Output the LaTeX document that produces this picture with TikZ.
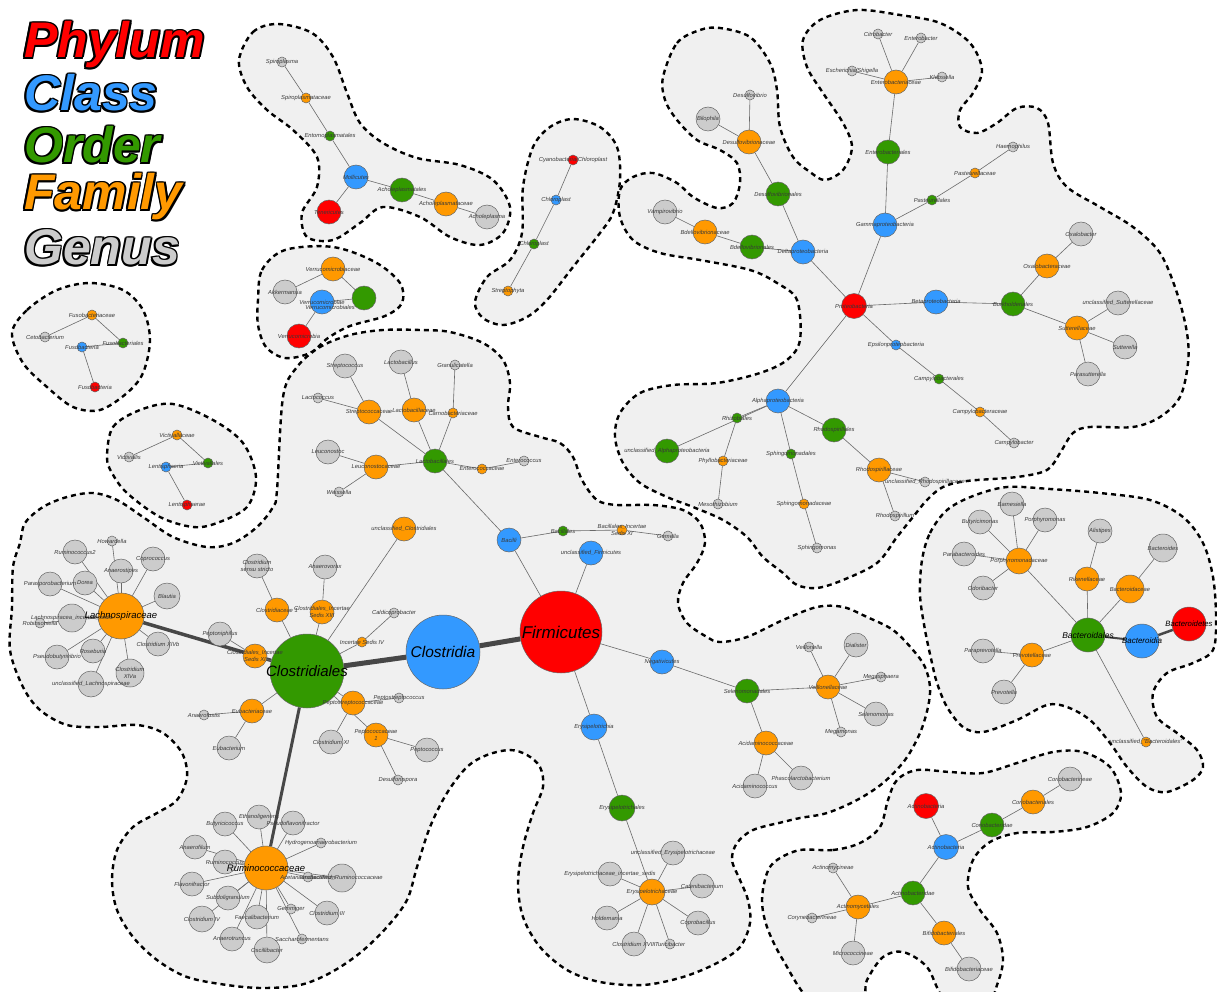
\documentclass[tikz,border=0pt]{standalone}
\usepackage{fontspec}
\setmainfont{Liberation Sans}
\usetikzlibrary{positioning}
\definecolor{cphylum}{HTML}{FF0000}
\definecolor{cclass}{HTML}{3399FF}
\definecolor{corder}{HTML}{339900}
\definecolor{cfamily}{HTML}{FF9900}
\definecolor{cgenus}{HTML}{CCCCCC}
\definecolor{hullfill}{HTML}{F0F0F0}
\definecolor{edgegray}{HTML}{6A6A6A}
\pgfdeclarelayer{hulls}
\pgfdeclarelayer{links}
\pgfsetlayers{hulls,links,main}
\tikzset{
  taxon/.style={circle, draw=black!60, line width=0.5pt, inner sep=0pt, minimum size=#1},
  taxon/.default=24pt,
  tphylum/.style={taxon=#1, fill=cphylum}, tphylum/.default=24pt,
  tclass/.style={taxon=#1, fill=cclass}, tclass/.default=24pt,
  torder/.style={taxon=#1, fill=corder}, torder/.default=24pt,
  tfamily/.style={taxon=#1, fill=cfamily}, tfamily/.default=24pt,
  tgenus/.style={taxon=#1, fill=cgenus}, tgenus/.default=24pt,
  lbl/.style={font=\fontsize{5.8}{6.6}\selectfont\itshape, text=black!78, inner sep=0pt, align=center},
  big/.style={font=\fontsize{#1}{#1}\selectfont\itshape, text=black},
  link/.style={draw=edgegray, line width=0.6pt},
  trunk/.style={draw=black!72, line width=#1},
  hull/.style={fill=hullfill, draw=black, line width=2.4pt, dash pattern=on 5pt off 4pt},
  legend/.style={anchor=base west, inner sep=0pt, font=\fontsize{50}{50}\selectfont\bfseries\itshape}
}
% label centred on its taxon
\newcommand\lab[3][]{\node[lbl,#1] (#2-l) at (#2) {#3};}
% outlined legend word
\newcommand\legendword[4]{%
  \foreach \dx/\dy [count=\k] in {1.7/0,-1.7/0,0/1.7,0/-1.7,1.2/1.2,1.2/-1.2,-1.2/1.2,-1.2/-1.2}
    \node[legend, text=black, xshift=\dx pt, yshift=\dy pt] (#1-\k) at (24,#3) {#4};
  \node[legend, text=#2] (#1) at (24,#3) {#4};
}

\begin{document}
\begin{tikzpicture}[x=1pt, y=-1pt]
\useasboundingbox (0,0) rectangle (1217,992);

% hulls
\begin{pgfonlayer}{hulls}
\fill[white] (0,0) rectangle (1217,992);
\draw[hull] plot[smooth cycle, tension=0.55] coordinates {(239,60) (253,32) (278,24) (312,33) (333,57) (347,93) (360,123) (383,143) (417,158) (460,165) (493,180) (510,207) (503,233) (480,245) (450,237) (420,217) (383,207) (360,223) (333,240) (307,237) (302,213) (317,187) (317,157) (293,130) (267,110) (247,87)};
\draw[hull] plot[smooth cycle, tension=0.55] coordinates {(258,300) (262,270) (285,250) (333,247) (375,262) (400,283) (402,303) (385,316) (350,326) (328,338) (310,353) (285,358) (266,347) (258,325)};
\draw[hull] plot[smooth cycle, tension=0.55] coordinates {(12,333) (27,310) (57,290) (90,283) (123,290) (143,310) (150,340) (143,373) (127,393) (100,410) (73,407) (47,387) (23,363)};
\draw[hull] plot[smooth cycle, tension=0.55] coordinates {(107,457) (113,427) (140,410) (173,404) (213,420) (243,443) (256,477) (247,507) (217,523) (193,527) (160,517) (127,493) (112,473)};
\draw[hull] plot[smooth cycle, tension=0.55] coordinates {(475,302) (487,277) (510,260) (522,233) (523,187) (533,147) (550,127) (573,119) (600,127) (617,147) (620,180) (613,213) (600,233) (573,267) (547,300) (527,317) (503,325) (483,318)};
\draw[hull] plot[smooth cycle, tension=0.55] coordinates {(663,77) (677,43) (700,30) (720,28) (750,37) (770,63) (777,90) (780,127) (793,157) (810,172) (825,180) (843,170) (852,147) (843,123) (823,93) (807,67) (803,40) (820,20) (857,10) (900,15) (940,23) (970,43) (982,70) (973,93) (960,110) (960,127) (977,133) (997,123) (1017,108) (1037,108) (1048,123) (1053,163) (1067,187) (1100,207) (1133,227) (1160,253) (1177,293) (1187,333) (1188,363) (1180,397) (1160,417) (1133,427) (1090,427) (1073,433) (1060,453) (1047,470) (1017,477) (967,481) (943,487) (927,500) (913,517) (897,537) (877,563) (843,580) (817,588) (797,585) (783,573) (763,557) (747,537) (723,520) (693,507) (667,497) (640,483) (623,463) (615,437) (620,413) (640,393) (673,385) (717,383) (760,373) (787,360) (800,340) (797,300) (777,283) (750,270) (700,260) (660,253) (633,240) (620,217) (620,190) (633,177) (653,173) (677,183) (693,197) (717,208) (733,203) (740,183) (737,163) (720,150) (697,140) (677,120) (665,100)};
\draw[hull] plot[smooth cycle, tension=0.55] coordinates {(277,490) (283,397) (297,367) (320,347) (350,335) (383,330) (420,330) (450,332) (483,343) (503,360) (510,383) (508,407) (513,427) (540,437) (560,443) (573,457) (582,480) (597,500) (617,505) (653,505) (683,510) (700,523) (705,543) (697,563) (683,583) (678,603) (687,623) (707,637) (720,642) (747,637) (783,620) (817,607) (843,607) (867,617) (893,630) (913,650) (925,667) (930,687) (928,707) (920,733) (905,760) (883,783) (857,800) (827,813) (800,818) (783,822) (753,830) (737,843) (732,860) (740,880) (748,900) (750,923) (740,947) (717,963) (683,977) (643,985) (600,982) (567,970) (540,947) (523,917) (518,883) (523,847) (533,813) (543,787) (540,767) (527,755) (510,750) (487,755) (467,767) (447,793) (430,827) (417,867) (407,900) (387,927) (360,953) (330,973) (300,985) (263,988) (227,985) (187,977) (157,960) (133,937) (117,910) (112,880) (117,850) (133,827) (157,813) (177,800) (187,777) (182,753) (163,733) (137,725) (100,727) (67,725) (40,710) (23,687) (10,650) (12,607) (13,567) (20,543) (25,523) (43,507) (67,497) (93,493) (117,500) (143,517) (173,537) (207,547) (233,543) (257,527) (273,507)};
\draw[hull] plot[smooth cycle, tension=0.55] coordinates {(922,560) (930,533) (947,510) (973,496) (1007,487) (1050,489) (1100,493) (1150,500) (1183,517) (1203,543) (1213,577) (1216,617) (1213,650) (1193,663) (1167,673) (1153,693) (1157,717) (1177,733) (1197,750) (1203,767) (1193,780) (1167,792) (1147,787) (1127,767) (1110,743) (1090,720) (1067,707) (1047,705) (1017,720) (983,732) (963,727) (947,707) (937,683) (932,663) (925,630) (920,595)};
\draw[hull] plot[smooth cycle, tension=0.55] coordinates {(800,850) (833,850) (860,843) (880,827) (888,800) (897,780) (917,770) (950,772) (983,773) (1017,763) (1053,752) (1083,752) (1110,767) (1121,793) (1113,813) (1087,827) (1053,832) (1017,833) (990,842) (973,860) (968,887) (980,910) (997,933) (1003,960) (997,985) (987,1002) (947,1002) (927,967) (903,952) (883,957) (867,980) (860,1002) (813,1002) (783,960) (767,927) (762,900) (767,873) (777,860)};
\end{pgfonlayer}

% legend
\legendword{legPhylum}{cphylum}{58}{Phylum}
\legendword{legClass}{cclass}{111}{Class}
\legendword{legOrder}{corder}{163}{Order}
\legendword{legFamily}{cfamily}{210}{Family}
\legendword{legGenus}{cgenus}{265}{Genus}

% Tenericutes
\node[tgenus=10pt] (Spiroplasma) at (282,62) {};
\node[tfamily=10pt] (Spiroplasmataceae) at (306,98) {};
\node[torder=10pt] (Entomoplasmatales) at (330,136) {};
\node[tclass] (Mollicutes) at (356,177) {};
\node[torder] (Acholeplasmatales) at (402,190) {};
\node[tfamily] (Acholeplasmataceae) at (446,204) {};
\node[tgenus] (Acholeplasma) at (487,217) {};
\node[tphylum] (Tenericutes) at (329,212) {};

% Verrucomicrobia
\node[tfamily] (Verrucomicrobiaceae) at (333,269) {};
\node[tgenus] (Akkermansia) at (285,292) {};
\node[torder] (Verrucomicrobiales) at (364,298) {};
\node[tclass] (Verrucomicrobiae) at (322,302) {};
\node[tphylum] (Verrucomicrobia) at (299,336) {};

% Fusobacteria
\node[tfamily=10pt] (Fusobacteriaceae) at (92,315) {};
\node[tgenus=10pt] (Cetobacterium) at (45,337) {};
\node[torder=10pt] (Fusobacteriales) at (123,343) {};
\node[tclass=10pt] (FusoClass) at (82,347) {};
\node[tphylum=10pt] (FusoPhylum) at (95,387) {};

% Lentisphaerae
\node[tfamily=10pt] (Victivallaceae) at (177,435) {};
\node[tgenus=10pt] (Victivallis) at (129,457) {};
\node[torder=10pt] (Victivallales) at (208,463) {};
\node[tclass=10pt] (Lentisphaeria) at (166,467) {};
\node[tphylum=10pt] (Lentisphaerae) at (187,505) {};

% Cyanobacteria
\node[tphylum=10pt] (Cyanobacteria) at (573,160) {};
\node[tclass=10pt] (ChloroClass) at (556,200) {};
\node[torder=10pt] (ChloroOrder) at (534,244) {};
\node[tfamily=10pt] (Streptophyta) at (508,291) {};

% Proteobacteria
\node[tgenus=10pt] (Desulfovibrio) at (750,95) {};
\node[tgenus] (Bilophila) at (708,119) {};
\node[tfamily] (Desulfovibrionaceae) at (749,142) {};
\node[torder] (Desulfovibrionales) at (778,194) {};
\node[tgenus] (Vampirovibrio) at (665,212) {};
\node[tfamily] (Bdellovibrionaceae) at (705,232) {};
\node[torder] (Bdellovibrionales) at (752,247) {};
\node[tclass] (Deltaproteobacteria) at (803,252) {};
\node[tgenus=10pt] (Citrobacter) at (878,34) {};
\node[tgenus=10pt] (Enterobacter) at (921,38) {};
\node[tgenus=10pt] (Escherichia) at (852,71) {};
\node[tgenus=10pt] (Klebsiella) at (942,77) {};
\node[tfamily] (Enterobacteriaceae) at (896,82) {};
\node[torder] (Enterobacteriales) at (888,152) {};
\node[tgenus=10pt] (Haemophilus) at (1013,147) {};
\node[tfamily=10pt] (Pasteurellaceae) at (975,173) {};
\node[torder=10pt] (Pasteurellales) at (932,200) {};
\node[tclass] (Gammaproteobacteria) at (885,225) {};
\node[tgenus] (Oxalobacter) at (1081,234) {};
\node[tfamily] (Oxalobacteraceae) at (1047,266) {};
\node[tphylum=25pt] (Proteobacteria) at (854,306) {};
\node[tclass] (Betaproteobacteria) at (936,302) {};
\node[torder] (Burkholderiales) at (1013,304) {};
\node[tgenus] (unclSutterellaceae) at (1118,303) {};
\node[tfamily] (Sutterellaceae) at (1077,328) {};
\node[tgenus] (Sutterella) at (1125,347) {};
\node[tgenus] (Parasutterella) at (1088,374) {};
\node[tclass=10pt] (Epsilonproteobacteria) at (896,345) {};
\node[torder=10pt] (Campylobacterales) at (939,379) {};
\node[tfamily=10pt] (Campylobacteraceae) at (980,412) {};
\node[tgenus=10pt] (Campylobacter) at (1014,443) {};
\node[torder] (Rhodospirillales) at (834,430) {};
\node[tfamily] (Rhodospirillaceae) at (879,470) {};
\node[tgenus=10pt] (unclRhodospirillaceae) at (925,482) {};
\node[tgenus=10pt] (Rhodospirillum) at (895,516) {};
\node[tclass] (Alphaproteobacteria) at (778,401) {};
\node[torder=10pt] (Rhizobiales) at (737,418) {};
\node[torder] (unclAlphaproteobacteria) at (667,451) {};
\node[tfamily=10pt] (Phyllobacteriaceae) at (723,461) {};
\node[tgenus=10pt] (Mesorhizobium) at (718,504) {};
\node[torder=10pt] (Sphingomonadales) at (791,454) {};
\node[tfamily=10pt] (Sphingomonadaceae) at (804,504) {};
\node[tgenus=10pt] (Sphingomonas) at (817,548) {};

% Firmicutes
\node[tphylum=82pt] (Firmicutes) at (561,632) {};
\node[tclass=74pt] (Clostridia) at (443,652) {};
\node[torder=74pt] (Clostridiales) at (307,671) {};
\node[tclass] (Bacilli) at (509,540) {};
\node[tclass] (unclFirmicutes) at (591,553) {};
\node[torder=10pt] (Bacillales) at (563,531) {};
\node[tfamily=10pt] (BacillalesXI) at (622,530) {};
\node[tgenus=10pt] (Gemella) at (668,536) {};
\node[torder] (Lactobacillales) at (435,461) {};
\node[tfamily=10pt] (Enterococcaceae) at (482,469) {};
\node[tgenus=10pt] (Enterococcus) at (524,461) {};
\node[tfamily=10pt] (Carnobacteriaceae) at (453,413) {};
\node[tgenus=10pt] (Granulicatella) at (455,365) {};
\node[tfamily] (Lactobacillaceae) at (414,410) {};
\node[tgenus] (Lactobacillus) at (401,362) {};
\node[tfamily] (Streptococcaceae) at (369,412) {};
\node[tgenus] (Streptococcus) at (345,366) {};
\node[tgenus=10pt] (Lactococcus) at (318,398) {};
\node[tfamily] (Leuconostocaceae) at (376,467) {};
\node[tgenus] (Leuconostoc) at (328,452) {};
\node[tgenus=10pt] (Weissella) at (339,492) {};
\node[tfamily] (unclClostridiales) at (404,529) {};
\node[tfamily] (Clostridiaceae) at (277,610) {};
\node[tgenus] (ClostridiumSS) at (257,566) {};
\node[tfamily] (ClostridialesXIII) at (322,612) {};
\node[tgenus] (Anaerovorax) at (325,567) {};
\node[tfamily=10pt] (IncertaeIV) at (362,642) {};
\node[tgenus=10pt] (Caldicoprobacter) at (394,613) {};
\node[tfamily] (ClostridialesXI) at (255,656) {};
\node[tgenus] (Peptoniphilus) at (220,634) {};
\node[tfamily] (Eubacteriaceae) at (252,711) {};
\node[tgenus=10pt] (Anaerofustis) at (204,715) {};
\node[tgenus] (Eubacterium) at (229,748) {};
\node[tfamily] (Peptostreptococcaceae) at (353,703) {};
\node[tgenus=10pt] (Peptostreptococcus) at (399,698) {};
\node[tgenus] (ClostridiumXI) at (331,742) {};
\node[tfamily] (Peptococcaceae) at (376,735) {};
\node[tgenus] (Peptococcus) at (427,750) {};
\node[tgenus=10pt] (Desulfonispora) at (398,780) {};

% Lachnospiraceae
\node[tgenus=10pt] (Howardella) at (112,541) {};
\node[tgenus] (Ruminococcus2) at (75,552) {};
\node[tgenus] (Coprococcus) at (153,559) {};
\node[tgenus] (Anaerostipes) at (121,571) {};
\node[tgenus] (Dorea) at (85,583) {};
\node[tgenus] (Parasporobacterium) at (50,584) {};
\node[tgenus=26pt] (Blautia) at (167,596) {};
\node[tgenus=28pt] (LachnoIS) at (72,618) {};
\node[tgenus=10pt] (Robinsoniella) at (40,623) {};
\node[tgenus] (ClostridiumXlVb) at (158,644) {};
\node[tgenus] (Roseburia) at (93,651) {};
\node[tgenus] (Pseudobutyrivibrio) at (57,657) {};
\node[tgenus=28pt] (ClostridiumXlVa) at (130,673) {};
\node[tgenus=26pt] (unclLachnospiraceae) at (91,684) {};
\node[tfamily=46pt] (Lachnospiraceae) at (121,616) {};

% Ruminococcaceae
\node[tgenus] (Ethanoligenens) at (259,817) {};
\node[tgenus] (Butyricicoccus) at (225,824) {};
\node[tgenus] (Pseudoflavonifractor) at (293,823) {};
\node[tgenus=10pt] (Hydrogenoanaerobacterium) at (321,843) {};
\node[tgenus] (Anaerofilum) at (195,847) {};
\node[tgenus] (Ruminococcus) at (225,862) {};
\node[tgenus] (Flavonifractor) at (192,884) {};
\node[tgenus=28pt] (unclRuminococcaceae) at (342,878) {};
\node[tgenus=10pt] (Acetanaerobacterium) at (308,877) {};
\node[tgenus] (Subdoligranulum) at (228,898) {};
\node[tgenus=26pt] (ClostridiumIV) at (202,919) {};
\node[tgenus] (Faecalibacterium) at (257,917) {};
\node[tgenus=10pt] (Gemmiger) at (291,909) {};
\node[tgenus] (ClostridiumIII) at (327,913) {};
\node[tgenus] (Anaerotruncus) at (232,939) {};
\node[tgenus=10pt] (Saccharofermentans) at (302,939) {};
\node[tgenus=26pt] (Oscillibacter) at (267,950) {};
\node[tfamily=44pt] (Ruminococcaceae) at (266,868) {};

% Negativicutes and Erysipelotrichia
\node[tclass] (Negativicutes) at (662,662) {};
\node[torder] (Selenomonadales) at (747,691) {};
\node[tfamily] (Veillonellaceae) at (828,687) {};
\node[tgenus=10pt] (Veillonella) at (809,647) {};
\node[tgenus] (Dialister) at (856,645) {};
\node[tgenus=10pt] (Megasphaera) at (881,677) {};
\node[tgenus] (Selenomonas) at (876,714) {};
\node[tgenus=10pt] (Megamonas) at (841,732) {};
\node[tfamily] (Acidaminococcaceae) at (766,743) {};
\node[tgenus] (Acidaminococcus) at (755,786) {};
\node[tgenus] (Phascolarctobacterium) at (801,778) {};
\node[tclass=26pt] (Erysipelotrichia) at (594,727) {};
\node[torder=26pt] (Erysipelotrichales) at (622,808) {};
\node[tgenus] (unclErysipelotrichaceae) at (673,853) {};
\node[tgenus] (ErysipeloIS) at (610,874) {};
\node[tgenus] (Catenibacterium) at (702,886) {};
\node[tgenus] (Holdemania) at (607,918) {};
\node[tgenus] (Coprobacillus) at (698,923) {};
\node[tgenus] (ClostridiumXVIII) at (634,944) {};
\node[tgenus=10pt] (Turicibacter) at (670,944) {};
\node[tfamily=26pt] (Erysipelotrichaceae) at (652,892) {};

% Bacteroidetes
\node[tgenus] (Barnesiella) at (1012,504) {};
\node[tgenus] (Butyricimonas) at (980,522) {};
\node[tgenus] (Porphyromonas) at (1045,520) {};
\node[tgenus] (Alistipes) at (1100,531) {};
\node[tgenus=28pt] (Bacteroides) at (1163,548) {};
\node[tgenus] (Parabacteroides) at (964,554) {};
\node[tfamily=26pt] (Porphyromonadaceae) at (1019,561) {};
\node[tfamily] (Rikenellaceae) at (1087,579) {};
\node[tfamily=28pt] (Bacteroidaceae) at (1130,589) {};
\node[tgenus] (Odoribacter) at (983,588) {};
\node[torder=34pt] (Bacteroidales) at (1088,635) {};
\node[tclass=34pt] (Bacteroidia) at (1142,641) {};
\node[tphylum=34pt] (Bacteroidetes) at (1189,624) {};
\node[tgenus] (Paraprevotella) at (983,651) {};
\node[tfamily] (Prevotellaceae) at (1032,655) {};
\node[tgenus] (Prevotella) at (1004,692) {};
\node[tfamily=10pt] (unclBacteroidales) at (1146,742) {};

% Actinobacteria
\node[tgenus] (Coriobacterineae) at (1070,779) {};
\node[tfamily] (Coriobacteriales) at (1033,802) {};
\node[tphylum=25pt] (ActinoPhylum) at (926,806) {};
\node[torder] (Coriobacteridae) at (992,825) {};
\node[tclass=25pt] (ActinoClass) at (946,847) {};
\node[tgenus=10pt] (Actinomycineae) at (833,868) {};
\node[torder] (Actinobacteridae) at (913,893) {};
\node[tfamily] (Actinomycetales) at (858,907) {};
\node[tgenus=10pt] (Corynebacterineae) at (812,918) {};
\node[tfamily] (Bifidobacteriales) at (944,933) {};
\node[tgenus] (Micrococcineae) at (853,953) {};
\node[tgenus] (Bifidobacteriaceae) at (969,969) {};

% links
\begin{pgfonlayer}{links}
\draw[link] (Spiroplasma) -- (Spiroplasmataceae) -- (Entomoplasmatales) -- (Mollicutes) -- (Tenericutes);
\draw[link] (Mollicutes) -- (Acholeplasmatales) -- (Acholeplasmataceae) -- (Acholeplasma);
\draw[link] (Akkermansia) -- (Verrucomicrobiaceae) -- (Verrucomicrobiales) -- (Verrucomicrobiae) -- (Verrucomicrobia);
\draw[link] (Cetobacterium) -- (Fusobacteriaceae) -- (Fusobacteriales) -- (FusoClass) -- (FusoPhylum);
\draw[link] (Victivallis) -- (Victivallaceae) -- (Victivallales) -- (Lentisphaeria) -- (Lentisphaerae);
\draw[link] (Cyanobacteria) -- (ChloroClass) -- (ChloroOrder) -- (Streptophyta);
% Proteobacteria
\draw[link] (Desulfovibrio) -- (Desulfovibrionaceae) -- (Desulfovibrionales) -- (Deltaproteobacteria) -- (Proteobacteria);
\draw[link] (Bilophila) -- (Desulfovibrionaceae);
\draw[link] (Vampirovibrio) -- (Bdellovibrionaceae) -- (Bdellovibrionales) -- (Deltaproteobacteria);
\foreach \g in {Citrobacter,Enterobacter,Escherichia,Klebsiella}
  \draw[link] (\g) -- (Enterobacteriaceae);
\draw[link] (Enterobacteriaceae) -- (Enterobacteriales) -- (Gammaproteobacteria) -- (Proteobacteria);
\draw[link] (Haemophilus) -- (Pasteurellaceae) -- (Pasteurellales) -- (Gammaproteobacteria);
\draw[link] (Proteobacteria) -- (Betaproteobacteria) -- (Burkholderiales) -- (Oxalobacteraceae) -- (Oxalobacter);
\draw[link] (Burkholderiales) -- (Sutterellaceae);
\foreach \g in {unclSutterellaceae,Sutterella,Parasutterella}
  \draw[link] (Sutterellaceae) -- (\g);
\draw[link] (Proteobacteria) -- (Epsilonproteobacteria) -- (Campylobacterales) -- (Campylobacteraceae) -- (Campylobacter);
\draw[link] (Proteobacteria) -- (Alphaproteobacteria);
\draw[link] (Alphaproteobacteria) -- (unclAlphaproteobacteria);
\draw[link] (Alphaproteobacteria) -- (Rhizobiales) -- (Phyllobacteriaceae) -- (Mesorhizobium);
\draw[link] (Alphaproteobacteria) -- (Sphingomonadales) -- (Sphingomonadaceae) -- (Sphingomonas);
\draw[link] (Alphaproteobacteria) -- (Rhodospirillales) -- (Rhodospirillaceae) -- (unclRhodospirillaceae);
\draw[link] (Rhodospirillaceae) -- (Rhodospirillum);
% Firmicutes
\draw[trunk=5pt] (Firmicutes) -- (Clostridia) -- (Clostridiales);
\draw[trunk=3.5pt] (Clostridiales) -- (Lachnospiraceae);
\draw[trunk=3pt] (Clostridiales) -- (Ruminococcaceae);
\draw[link] (Firmicutes) -- (Bacilli) -- (Lactobacillales);
\draw[link] (Firmicutes) -- (unclFirmicutes);
\draw[link] (Bacilli) -- (Bacillales) -- (BacillalesXI) -- (Gemella);
\draw[link] (Lactobacillales) -- (Enterococcaceae) -- (Enterococcus);
\draw[link] (Lactobacillales) -- (Carnobacteriaceae) -- (Granulicatella);
\draw[link] (Lactobacillales) -- (Lactobacillaceae) -- (Lactobacillus);
\draw[link] (Lactobacillales) -- (Streptococcaceae) -- (Streptococcus);
\draw[link] (Streptococcaceae) -- (Lactococcus);
\draw[link] (Lactobacillales) -- (Leuconostocaceae) -- (Leuconostoc);
\draw[link] (Leuconostocaceae) -- (Weissella);
\draw[link] (Clostridiales) -- (unclClostridiales);
\draw[link] (Clostridiales) -- (Clostridiaceae) -- (ClostridiumSS);
\draw[link] (Clostridiales) -- (ClostridialesXIII) -- (Anaerovorax);
\draw[link] (Clostridiales) -- (IncertaeIV) -- (Caldicoprobacter);
\draw[link] (Clostridiales) -- (ClostridialesXI) -- (Peptoniphilus);
\draw[link] (Clostridiales) -- (Eubacteriaceae) -- (Anaerofustis);
\draw[link] (Eubacteriaceae) -- (Eubacterium);
\draw[link] (Clostridiales) -- (Peptostreptococcaceae) -- (Peptostreptococcus);
\draw[link] (Peptostreptococcaceae) -- (ClostridiumXI);
\draw[link] (Clostridiales) -- (Peptococcaceae) -- (Peptococcus);
\draw[link] (Peptococcaceae) -- (Desulfonispora);
\foreach \g in {Howardella,Ruminococcus2,Coprococcus,Anaerostipes,Dorea,Parasporobacterium,Blautia,LachnoIS,Robinsoniella,ClostridiumXlVb,Roseburia,Pseudobutyrivibrio,ClostridiumXlVa,unclLachnospiraceae}
  \draw[link] (Lachnospiraceae) -- (\g);
\foreach \g in {Ethanoligenens,Butyricicoccus,Pseudoflavonifractor,Hydrogenoanaerobacterium,Anaerofilum,Ruminococcus,Flavonifractor,unclRuminococcaceae,Acetanaerobacterium,Subdoligranulum,ClostridiumIV,Faecalibacterium,Gemmiger,ClostridiumIII,Anaerotruncus,Saccharofermentans,Oscillibacter}
  \draw[link] (Ruminococcaceae) -- (\g);
\draw[link] (Firmicutes) -- (Negativicutes) -- (Selenomonadales) -- (Veillonellaceae);
\foreach \g in {Veillonella,Dialister,Megasphaera,Selenomonas,Megamonas}
  \draw[link] (Veillonellaceae) -- (\g);
\draw[link] (Selenomonadales) -- (Acidaminococcaceae) -- (Acidaminococcus);
\draw[link] (Acidaminococcaceae) -- (Phascolarctobacterium);
\draw[link] (Firmicutes) -- (Erysipelotrichia) -- (Erysipelotrichales) -- (Erysipelotrichaceae);
\foreach \g in {unclErysipelotrichaceae,ErysipeloIS,Catenibacterium,Holdemania,Coprobacillus,ClostridiumXVIII,Turicibacter}
  \draw[link] (Erysipelotrichaceae) -- (\g);
% Bacteroidetes
\foreach \g in {Barnesiella,Butyricimonas,Porphyromonas,Parabacteroides,Odoribacter}
  \draw[link] (Porphyromonadaceae) -- (\g);
\draw[link] (Porphyromonadaceae) -- (Bacteroidales);
\draw[link] (Alistipes) -- (Rikenellaceae) -- (Bacteroidales);
\draw[link] (Bacteroides) -- (Bacteroidaceae) -- (Bacteroidales);
\draw[link] (Paraprevotella) -- (Prevotellaceae) -- (Bacteroidales);
\draw[link] (Prevotella) -- (Prevotellaceae);
\draw[link] (Bacteroidales) -- (unclBacteroidales);
\draw[trunk=2pt] (Bacteroidales) -- (Bacteroidia);
\draw[trunk=2.5pt] (Bacteroidia) -- (Bacteroidetes);
% Actinobacteria
\draw[link] (ActinoPhylum) -- (ActinoClass) -- (Coriobacteridae) -- (Coriobacteriales) -- (Coriobacterineae);
\draw[link] (ActinoClass) -- (Actinobacteridae) -- (Actinomycetales) -- (Actinomycineae);
\draw[link] (Actinomycetales) -- (Corynebacterineae);
\draw[link] (Actinomycetales) -- (Micrococcineae);
\draw[link] (Actinobacteridae) -- (Bifidobacteriales) -- (Bifidobacteriaceae);
\end{pgfonlayer}

% labels
\lab{Spiroplasma}{Spiroplasma}
\lab{Spiroplasmataceae}{Spiroplasmataceae}
\lab{Entomoplasmatales}{Entomoplasmatales}
\lab{Mollicutes}{Mollicutes}
\lab{Acholeplasmatales}{Acholeplasmatales}
\lab{Acholeplasmataceae}{Acholeplasmataceae}
\lab{Acholeplasma}{Acholeplasma}
\lab{Tenericutes}{Tenericutes}
\lab{Verrucomicrobiaceae}{Verrucomicrobiaceae}
\lab{Akkermansia}{Akkermansia}
\lab{Verrucomicrobiae}{Verrucomicrobiae}
\node[lbl] (Verrucomicrobiales-l) at (330,307) {Verrucomicrobiales};
\lab{Verrucomicrobia}{Verrucomicrobia}
\lab{Fusobacteriaceae}{Fusobacteriaceae}
\lab{Cetobacterium}{Cetobacterium}
\lab{Fusobacteriales}{Fusobacteriales}
\lab{FusoClass}{Fusobacteria}
\lab{FusoPhylum}{Fusobacteria}
\lab{Victivallaceae}{Victivallaceae}
\lab{Victivallis}{Victivallis}
\lab{Victivallales}{Victivallales}
\lab{Lentisphaeria}{Lentisphaeria}
\lab{Lentisphaerae}{Lentisphaerae}
\lab{Cyanobacteria}{Cyanobacteria/Chloroplast}
\lab{ChloroClass}{Chloroplast}
\lab{ChloroOrder}{Chloroplast}
\lab{Streptophyta}{Streptophyta}
% Proteobacteria
\lab{Desulfovibrio}{Desulfovibrio}
\lab{Bilophila}{Bilophila}
\lab{Desulfovibrionaceae}{Desulfovibrionaceae}
\lab{Desulfovibrionales}{Desulfovibrionales}
\lab{Vampirovibrio}{Vampirovibrio}
\lab{Bdellovibrionaceae}{Bdellovibrionaceae}
\lab{Bdellovibrionales}{Bdellovibrionales}
\lab{Deltaproteobacteria}{Deltaproteobacteria}
\lab{Citrobacter}{Citrobacter}
\lab{Enterobacter}{Enterobacter}
\lab{Escherichia}{Escherichia/Shigella}
\lab{Klebsiella}{Klebsiella}
\lab{Enterobacteriaceae}{Enterobacteriaceae}
\lab{Enterobacteriales}{Enterobacteriales}
\lab{Haemophilus}{Haemophilus}
\lab{Pasteurellaceae}{Pasteurellaceae}
\lab{Pasteurellales}{Pasteurellales}
\lab{Gammaproteobacteria}{Gammaproteobacteria}
\lab{Oxalobacter}{Oxalobacter}
\lab{Oxalobacteraceae}{Oxalobacteraceae}
\lab{Proteobacteria}{Proteobacteria}
\lab{Betaproteobacteria}{Betaproteobacteria}
\lab{Burkholderiales}{Burkholderiales}
\lab{unclSutterellaceae}{unclassified\_Sutterellaceae}
\lab{Sutterellaceae}{Sutterellaceae}
\lab{Sutterella}{Sutterella}
\lab{Parasutterella}{Parasutterella}
\lab{Epsilonproteobacteria}{Epsilonproteobacteria}
\lab{Campylobacterales}{Campylobacterales}
\lab{Campylobacteraceae}{Campylobacteraceae}
\lab{Campylobacter}{Campylobacter}
\lab{Rhodospirillales}{Rhodospirillales}
\lab{Rhodospirillaceae}{Rhodospirillaceae}
\lab{unclRhodospirillaceae}{unclassified\_Rhodospirillaceae}
\lab{Rhodospirillum}{Rhodospirillum}
\lab{Alphaproteobacteria}{Alphaproteobacteria}
\lab{Rhizobiales}{Rhizobiales}
\lab{unclAlphaproteobacteria}{unclassified\_Alphaproteobacteria}
\lab{Phyllobacteriaceae}{Phyllobacteriaceae}
\lab{Mesorhizobium}{Mesorhizobium}
\lab{Sphingomonadales}{Sphingomonadales}
\lab{Sphingomonadaceae}{Sphingomonadaceae}
\lab{Sphingomonas}{Sphingomonas}
% Firmicutes
\lab[big=17]{Firmicutes}{Firmicutes}
\lab[big=15.5]{Clostridia}{Clostridia}
\lab[big=15]{Clostridiales}{Clostridiales}
\lab{Bacilli}{Bacilli}
\lab{unclFirmicutes}{unclassified\_Firmicutes}
\lab{Bacillales}{Bacillales}
\lab{BacillalesXI}{Bacillales\_Incertae\\Sedis XI}
\lab{Gemella}{Gemella}
\lab{Lactobacillales}{Lactobacillales}
\lab{Enterococcaceae}{Enterococcaceae}
\lab{Enterococcus}{Enterococcus}
\lab{Carnobacteriaceae}{Carnobacteriaceae}
\lab{Granulicatella}{Granulicatella}
\lab{Lactobacillaceae}{Lactobacillaceae}
\lab{Lactobacillus}{Lactobacillus}
\lab{Streptococcaceae}{Streptococcaceae}
\lab{Streptococcus}{Streptococcus}
\lab{Lactococcus}{Lactococcus}
\lab{Leuconostocaceae}{Leuconostocaceae}
\lab{Leuconostoc}{Leuconostoc}
\lab{Weissella}{Weissella}
\lab{unclClostridiales}{unclassified\_Clostridiales}
\lab{Clostridiaceae}{Clostridiaceae 1}
\lab{ClostridiumSS}{Clostridium\\sensu stricto}
\lab{ClostridialesXIII}{Clostridiales\_Incertae\\Sedis XIII}
\lab{Anaerovorax}{Anaerovorax}
\lab{IncertaeIV}{Incertae Sedis IV}
\lab{Caldicoprobacter}{Caldicoprobacter}
\lab{ClostridialesXI}{Clostridiales\_Incertae\\Sedis XI}
\lab{Peptoniphilus}{Peptoniphilus}
\lab{Eubacteriaceae}{Eubacteriaceae}
\lab{Anaerofustis}{Anaerofustis}
\lab{Eubacterium}{Eubacterium}
\lab{Peptostreptococcaceae}{Peptostreptococcaceae}
\lab{Peptostreptococcus}{Peptostreptococcus}
\lab{ClostridiumXI}{Clostridium XI}
\lab{Peptococcaceae}{Peptococcaceae\\1}
\lab{Peptococcus}{Peptococcus}
\lab{Desulfonispora}{Desulfonispora}
\lab{Howardella}{Howardella}
\lab{Ruminococcus2}{Ruminococcus2}
\lab{Coprococcus}{Coprococcus}
\lab{Anaerostipes}{Anaerostipes}
\lab{Dorea}{Dorea}
\lab{Parasporobacterium}{Parasporobacterium}
\lab{Blautia}{Blautia}
\lab{LachnoIS}{Lachnospiracea\_incertae\_sedis}
\lab{Robinsoniella}{Robinsoniella}
\lab{ClostridiumXlVb}{Clostridium XlVb}
\lab{Roseburia}{Roseburia}
\lab{Pseudobutyrivibrio}{Pseudobutyrivibrio}
\lab{ClostridiumXlVa}{Clostridium\\XlVa}
\lab{unclLachnospiraceae}{unclassified\_Lachnospiraceae}
\lab[big=9.5]{Lachnospiraceae}{Lachnospiraceae}
\lab{Ethanoligenens}{Ethanoligenens}
\lab{Butyricicoccus}{Butyricicoccus}
\lab{Pseudoflavonifractor}{Pseudoflavonifractor}
\lab{Hydrogenoanaerobacterium}{Hydrogenoanaerobacterium}
\lab{Anaerofilum}{Anaerofilum}
\lab{Ruminococcus}{Ruminococcus}
\lab{Flavonifractor}{Flavonifractor}
\lab{Acetanaerobacterium}{Acetanaerobacterium}
\lab{unclRuminococcaceae}{unclassified\_Ruminococcaceae}
\lab{Subdoligranulum}{Subdoligranulum}
\lab{ClostridiumIV}{Clostridium IV}
\lab{Faecalibacterium}{Faecalibacterium}
\lab{Gemmiger}{Gemmiger}
\lab{ClostridiumIII}{Clostridium III}
\lab{Anaerotruncus}{Anaerotruncus}
\lab{Saccharofermentans}{Saccharofermentans}
\lab{Oscillibacter}{Oscillibacter}
\lab[big=9.5]{Ruminococcaceae}{Ruminococcaceae}
\lab{Negativicutes}{Negativicutes}
\lab{Selenomonadales}{Selenomonadales}
\lab{Veillonellaceae}{Veillonellaceae}
\lab{Veillonella}{Veillonella}
\lab{Dialister}{Dialister}
\lab{Megasphaera}{Megasphaera}
\lab{Selenomonas}{Selenomonas}
\lab{Megamonas}{Megamonas}
\lab{Acidaminococcaceae}{Acidaminococcaceae}
\lab{Acidaminococcus}{Acidaminococcus}
\lab{Phascolarctobacterium}{Phascolarctobacterium}
\lab{Erysipelotrichia}{Erysipelotrichia}
\lab{Erysipelotrichales}{Erysipelotrichales}
\lab{Erysipelotrichaceae}{Erysipelotrichaceae}
\lab{unclErysipelotrichaceae}{unclassified\_Erysipelotrichaceae}
\lab{ErysipeloIS}{Erysipelotrichaceae\_incertae\_sedis}
\lab{Catenibacterium}{Catenibacterium}
\lab{Holdemania}{Holdemania}
\lab{Coprobacillus}{Coprobacillus}
\lab{ClostridiumXVIII}{Clostridium XVIII}
\lab{Turicibacter}{Turicibacter}
% Bacteroidetes
\lab{Barnesiella}{Barnesiella}
\lab{Butyricimonas}{Butyricimonas}
\lab{Porphyromonas}{Porphyromonas}
\lab{Alistipes}{Alistipes}
\lab{Bacteroides}{Bacteroides}
\lab{Parabacteroides}{Parabacteroides}
\lab{Porphyromonadaceae}{Porphyromonadaceae}
\lab{Rikenellaceae}{Rikenellaceae}
\lab{Bacteroidaceae}{Bacteroidaceae}
\lab{Odoribacter}{Odoribacter}
\lab[big=8.5]{Bacteroidales}{Bacteroidales}
\lab[big=8]{Bacteroidia}{Bacteroidia}
\lab[big=7.7]{Bacteroidetes}{Bacteroidetes}
\lab{Paraprevotella}{Paraprevotella}
\lab{Prevotellaceae}{Prevotellaceae}
\lab{Prevotella}{Prevotella}
\lab{unclBacteroidales}{unclassified\_"Bacteroidales"}
% Actinobacteria
\lab{Coriobacterineae}{Coriobacterineae}
\lab{Coriobacteriales}{Coriobacteriales}
\lab{ActinoPhylum}{Actinobacteria}
\lab{Coriobacteridae}{Coriobacteridae}
\lab{ActinoClass}{Actinobacteria}
\lab{Actinomycineae}{Actinomycineae}
\lab{Actinobacteridae}{Actinobacteridae}
\lab{Actinomycetales}{Actinomycetales}
\lab{Corynebacterineae}{Corynebacterineae}
\lab{Bifidobacteriales}{Bifidobacteriales}
\lab{Micrococcineae}{Micrococcineae}
\lab{Bifidobacteriaceae}{Bifidobacteriaceae}
\end{tikzpicture}
\end{document}
